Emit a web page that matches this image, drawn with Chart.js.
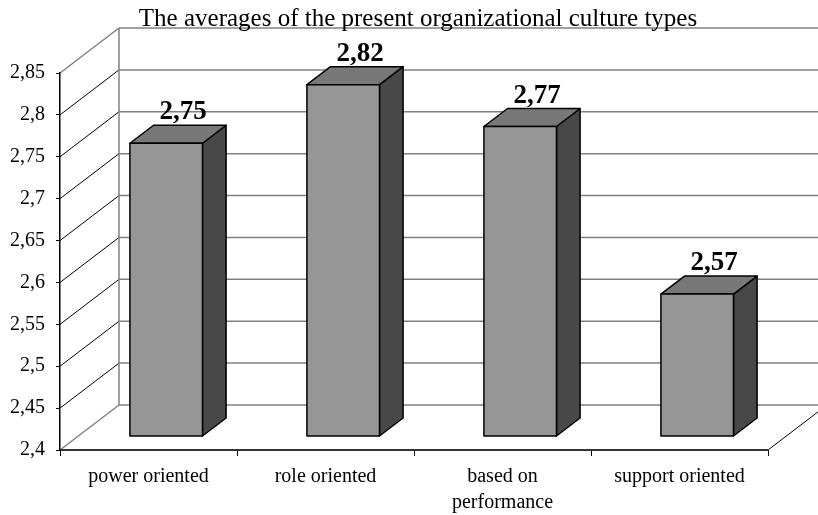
<!DOCTYPE html>
<html lang="en">
<head>
  <meta charset="UTF-8">
  <title>The averages of the present organizational culture types</title>
  <script src="https://cdn.jsdelivr.net/npm/chart.js"></script>
  <style>
    body {
      margin: 0;
      background: #fff;
    }

    .box {
      width: 818px;
      height: 515px;
      position: relative;
    }
  </style>
</head>
<body>
  <div class="box">
    <canvas id="cultureChart"></canvas>
  </div>

  <script>
    const chartTitle = 'The averages of the present organizational culture types';
    const categories = ['power oriented', 'role oriented', ['based on', 'performance'], 'support oriented'];
    const averages = [2.75, 2.82, 2.77, 2.57];
    const yTicks = [2.4, 2.45, 2.5, 2.55, 2.6, 2.65, 2.7, 2.75, 2.8, 2.85];

    const FONT = "'Liberation Serif', 'Times New Roman', serif";
    // depth of the 3d box (front plane -> back wall)
    const DX = 59, DY = -45;
    const BAR_FRONT = 0.3, BAR_DEPTH = 0.4;

    const fmt = v => (Math.round(v * 100) / 100).toString().replace('.', ',');

    function line(ctx, x1, y1, x2, y2, color, w) {
      ctx.beginPath();
      ctx.strokeStyle = color;
      ctx.lineWidth = w;
      ctx.moveTo(x1, y1);
      ctx.lineTo(x2, y2);
      ctx.stroke();
    }

    function poly(ctx, pts, fill) {
      ctx.beginPath();
      ctx.moveTo(pts[0][0], pts[0][1]);
      for (let i = 1; i < pts.length; i++) ctx.lineTo(pts[i][0], pts[i][1]);
      ctx.closePath();
      ctx.fillStyle = fill;
      ctx.fill();
      ctx.strokeStyle = '#000';
      ctx.lineWidth = 1.5;
      ctx.lineJoin = 'round';
      ctx.stroke();
    }

    const walls3d = {
      id: 'walls3d',
      beforeDraw(chart) {
        const ctx = chart.ctx;
        const y = chart.scales.y, x = chart.scales.x;
        const left = x.left, right = x.right;
        ctx.save();

        // back wall grid + left side wall
        yTicks.forEach((v, i) => {
          const py = y.getPixelForValue(v);
          const edge = i === 0 || i === yTicks.length - 1;
          line(ctx, left + DX, py + DY, chart.width + 10, py + DY, '#808080', 1.5);
          line(ctx, left, py, left + DX, py + DY, edge ? '#808080' : '#000', edge ? 1.5 : 1);
        });
        const top = y.getPixelForValue(yTicks[yTicks.length - 1]);
        const bot = y.getPixelForValue(yTicks[0]);
        line(ctx, left + DX, top + DY, left + DX, bot + DY, '#808080', 1.5);
        // floor right edge
        line(ctx, right, bot, right + DX, bot + DY, '#000', 1);

        // title
        ctx.fillStyle = '#000';
        ctx.font = '25px ' + FONT;
        ctx.textAlign = 'center';
        ctx.textBaseline = 'alphabetic';
        ctx.fillText(chartTitle, 418, 26);
        ctx.restore();
      },
      afterDatasetsDraw(chart) {
        const ctx = chart.ctx;
        const meta = chart.getDatasetMeta(0);
        const fx = DX * BAR_FRONT, fy = DY * BAR_FRONT;
        const dx = DX * BAR_DEPTH, dy = DY * BAR_DEPTH;
        ctx.save();
        meta.data.forEach((bar, i) => {
          const p = bar.getProps(['x', 'y', 'base', 'width'], true);
          const x0 = p.x - p.width / 2 + fx, x1 = p.x + p.width / 2 + fx;
          const yt = p.y + fy, yb = p.base + fy;
          // side
          poly(ctx, [[x1, yt], [x1 + dx, yt + dy], [x1 + dx, yb + dy], [x1, yb]], '#484848');
          // top
          poly(ctx, [[x0, yt], [x0 + dx, yt + dy], [x1 + dx, yt + dy], [x1, yt]], '#787878');
          // front
          poly(ctx, [[x0, yt], [x1, yt], [x1, yb], [x0, yb]], '#969696');

          ctx.fillStyle = '#000';
          ctx.font = 'bold 27px ' + FONT;
          ctx.textAlign = 'center';
          ctx.textBaseline = 'alphabetic';
          ctx.fillText(fmt(averages[i]), p.x + fx + 17, yt + dy - 6);
        });
        ctx.restore();
      }
    };

    const ctx = document.getElementById('cultureChart').getContext('2d');

    new Chart(ctx, {
      type: 'bar',
      data: {
        labels: categories,
        datasets: [{
          label: 'average',
          data: averages,
          base: yTicks[0],
          backgroundColor: 'rgba(0,0,0,0)',
          borderWidth: 0,
          barPercentage: 0.41,
          categoryPercentage: 1
        }]
      },
      options: {
        responsive: true,
        maintainAspectRatio: false,
        animation: false,
        layout: {
          padding: { top: 73, right: 50, left: 0, bottom: 0 }
        },
        scales: {
          x: {
            afterFit: s => { s.height = 65; },
            grid: {
              offset: true,
              drawOnChartArea: false,
              tickLength: 6,
              color: '#000'
            },
            border: { color: '#333', width: 2 },
            ticks: {
              color: '#000',
              padding: 8,
              maxRotation: 0,
              font: { family: FONT, size: 20, lineHeight: 1.3 }
            }
          },
          y: {
            min: 2.4,
            max: 2.85,
            afterFit: s => { s.width = 60; },
            afterBuildTicks: s => { s.ticks = yTicks.map(v => ({ value: v })); },
            grid: {
              drawOnChartArea: false,
              tickLength: 4,
              color: '#000'
            },
            border: { color: '#000', width: 1.5 },
            ticks: {
              color: '#000',
              padding: 11,
              font: { family: FONT, size: 20 },
              callback: v => fmt(v)
            }
          }
        },
        plugins: {
          legend: { display: false },
          tooltip: { enabled: false }
        }
      },
      plugins: [walls3d]
    });
  </script>
</body>
</html>
